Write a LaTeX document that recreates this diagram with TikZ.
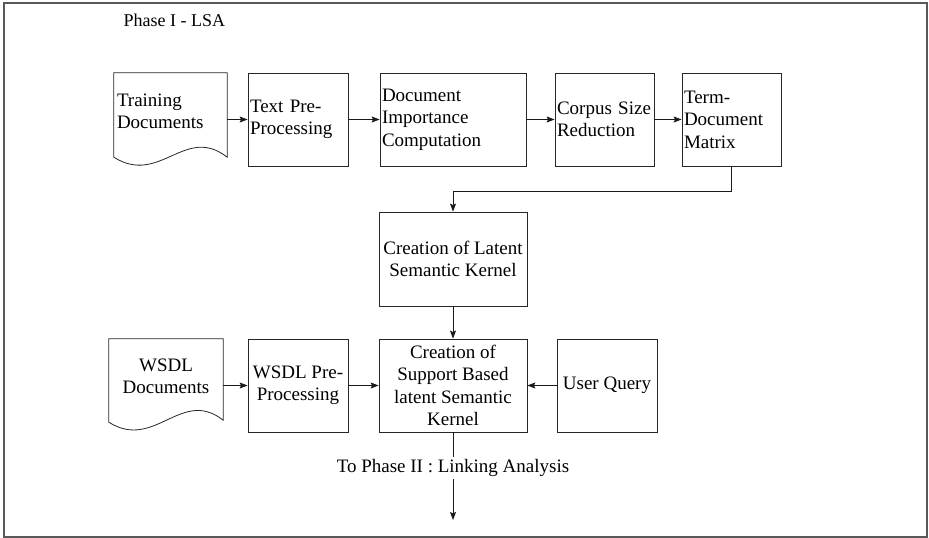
\documentclass[tikz,border=0pt]{standalone}
\usepackage{fontspec}
\setmainfont{Liberation Serif}
\usetikzlibrary{arrows.meta,calc}

\tikzset{
  lbl/.style={font=\fontsize{19}{22.5}\selectfont},
  procbox/.style={lbl, draw=black!85, line width=0.8pt, rectangle,
    minimum height=93pt, inner xsep=2pt, inner ysep=0pt},
  leftbox/.style={procbox, align=left, text width=#1},
  midbox/.style={procbox, align=center, minimum width=#1},
  docbody/.style={lbl, rectangle, inner sep=0pt, minimum width=#1},
  docline/.style={draw=black!85, line width=0.8pt},
  arr/.style={draw=black!90, line width=0.8pt,
    -{Stealth[length=8pt,width=6pt,inset=1.5pt]}},
}

\begin{document}
\begin{tikzpicture}[x=1pt,y=-1pt]
  % page frame
  \useasboundingbox (0,0) rectangle (929,538);
  \draw[black!65, line width=1.8pt] (4,3) rectangle (927,537);

  \node[lbl, anchor=base west, font=\fontsize{18}{21}\selectfont] (phase) at (120,27) {Phase I - LSA};

  % ---- upper row ----
  \node[docbody=113pt, minimum height=77pt, align=left, text width=107pt] (trd) at (170.5,111.5)
    {Training\\Documents};
  \draw[docline] (trd.north west) -- (trd.north east) -- ([yshift=-7pt]trd.south east)
    .. controls +(-42,-33) and +(46,29) .. ([yshift=-7pt]trd.south west) -- cycle;

  \node[leftbox=96pt] (tpp) at (298,119.5) {Text Pre-\\Processing};
  \node[leftbox=142pt] (dic) at (453,119.5) {Document\\Importance\\Computation};
  \node[leftbox=95pt] (csr) at (604.5,119.5) {Corpus Size\\Reduction};
  \node[leftbox=95pt] (tdm) at (731.5,119.5) {Term-\\Document\\Matrix};

  \draw[arr] (trd.east |- tpp.west) -- (tpp.west);
  \draw[arr] (tpp) -- (dic);
  \draw[arr] (dic) -- (csr);
  \draw[arr] (csr) -- (tdm);

  % ---- kernel ----
  \node[midbox=148pt, minimum height=94pt] (lsk) at (453,259) {Creation of Latent\\Semantic Kernel};
  \draw[arr] (tdm.south) -- ++(0,25) -| (lsk.north);

  % ---- lower row ----
  \node[docbody=114pt, minimum height=75pt, align=center] (wsd) at (166,376.5)
    {WSDL\\Documents};
  \draw[docline] (wsd.north west) -- (wsd.north east) -- ([yshift=-6pt]wsd.south east)
    .. controls +(-42,-33) and +(46,29) .. ([yshift=-8pt]wsd.south west) -- cycle;

  \node[midbox=100pt, align=center] (wpp) at (298,385.5) {WSDL Pre-\\Processing};
  \node[midbox=148pt, align=center] (sbk) at (453,385.5)
    {Creation of\\Support Based\\latent Semantic\\Kernel};
  \node[midbox=100pt] (uq) at (607,385.5) {User Query};

  \draw[arr] (wsd.east |- wpp.west) -- (wpp.west);
  \draw[arr] (wpp) -- (sbk);
  \draw[arr] (uq) -- (sbk);
  \draw[arr] (lsk) -- (sbk);

  % ---- hand-off to the next phase ----
  \coordinate (nxt) at (453,520);
  \draw[arr] (sbk.south) -- (nxt);
  \node[lbl, fill=white, inner sep=2pt] (lnk) at (453,468) {To Phase II : Linking Analysis};
\end{tikzpicture}
\end{document}
